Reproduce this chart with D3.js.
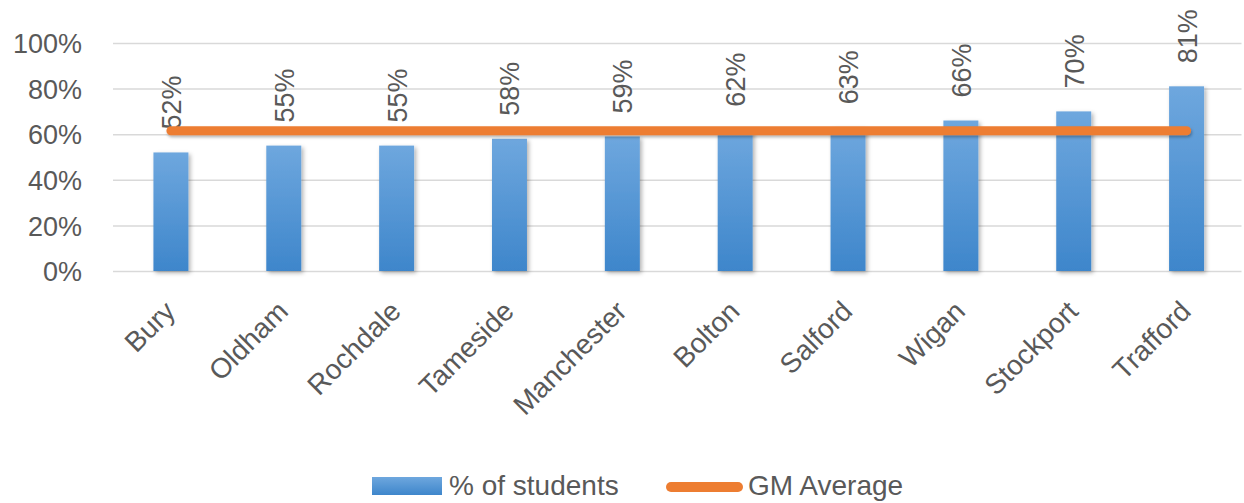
<!DOCTYPE html>
<html>
<head>
<meta charset="utf-8">
<script src="https://cdn.jsdelivr.net/npm/d3@7/dist/d3.min.js"></script>
<style>
  html, body { margin: 0; padding: 0; background: #fff; }
  svg { display: block; }
  text { font-family: "Liberation Sans", Arial, sans-serif; fill: #595959; }
</style>
</head>
<body>
<svg id="chart" width="1244" height="503"></svg>
<script>
// Share of students by Greater Manchester borough, with the GM average
const boroughs = ["Bury", "Oldham", "Rochdale", "Tameside", "Manchester",
                  "Bolton", "Salford", "Wigan", "Stockport", "Trafford"];
const studentShare = [0.52, 0.55, 0.55, 0.58, 0.59, 0.62, 0.63, 0.66, 0.70, 0.81];
const gmAverage = [0.615, 0.615, 0.615, 0.615, 0.615, 0.615, 0.615, 0.615, 0.615, 0.615];
const yTicks = [0, 0.2, 0.4, 0.6, 0.8, 1.0];
const seriesNames = ["% of students", "GM Average"];

const svg = d3.select("#chart");
const plot = { left: 114.5, right: 1243, top: 43, bottom: 271 };

const x = d3.scaleBand()
  .domain(boroughs)
  .range([plot.left, plot.right])
  .paddingInner(0.69)
  .paddingOuter(0.345);

const y = d3.scaleLinear().domain([0, 1]).range([plot.bottom, plot.top]);
const pct = d3.format(".0%");

const defs = svg.append("defs");
const grad = defs.append("linearGradient")
  .attr("id", "barFill").attr("x1", 0).attr("y1", 0).attr("x2", 0).attr("y2", 1);
grad.append("stop").attr("offset", "0%").attr("stop-color", "#6EA7DE");
grad.append("stop").attr("offset", "100%").attr("stop-color", "#3E86CB");

const shadow = defs.append("filter").attr("id", "shadow")
  .attr("x", "-30%").attr("y", "-30%").attr("width", "160%").attr("height", "160%");
shadow.append("feDropShadow")
  .attr("dx", 2).attr("dy", 2).attr("stdDeviation", 2)
  .attr("flood-color", "#000").attr("flood-opacity", 0.3);

// horizontal line has a zero-height bbox, so give its shadow an absolute region
const lineShadow = defs.append("filter").attr("id", "lineShadow")
  .attr("filterUnits", "userSpaceOnUse")
  .attr("x", 0).attr("y", 0).attr("width", 1244).attr("height", 503);
lineShadow.append("feDropShadow")
  .attr("dx", 1).attr("dy", 2).attr("stdDeviation", 1.5)
  .attr("flood-color", "#000").attr("flood-opacity", 0.3);

// horizontal gridlines and y tick labels
const yAxis = d3.axisLeft(y)
  .tickValues(yTicks)
  .tickFormat(pct)
  .tickSize(-(plot.right - plot.left))
  .tickPadding(31);

const gy = svg.append("g")
  .attr("transform", `translate(${plot.left - 1.5},0)`)
  .call(yAxis);
gy.select(".domain").remove();
gy.selectAll(".tick line").attr("stroke", "#D9D9D9").attr("stroke-width", 1.5);
gy.selectAll(".tick text")
  .attr("font-size", 27)
  .attr("fill", "#595959")
  .attr("dy", "0.36em");

// bars
svg.append("g").selectAll("rect")
  .data(studentShare)
  .join("rect")
  .attr("x", (d, i) => x(boroughs[i]))
  .attr("y", d => y(d))
  .attr("width", x.bandwidth())
  .attr("height", d => y(0) - y(d))
  .attr("fill", "url(#barFill)")
  .attr("filter", "url(#shadow)");

// value labels above bars, rotated
svg.append("g").selectAll("text")
  .data(studentShare)
  .join("text")
  .attr("transform", (d, i) => {
    const cx = x(boroughs[i]) + x.bandwidth() / 2;
    return `translate(${cx + 10},${y(d) - 23}) rotate(-90)`;
  })
  .attr("text-anchor", "start")
  .attr("font-size", 27)
  .text(d => pct(d));

// GM average line
const line = d3.line()
  .x((d, i) => x(boroughs[i]) + x.bandwidth() / 2)
  .y(d => y(d));

svg.append("path")
  .datum(gmAverage)
  .attr("d", line)
  .attr("fill", "none")
  .attr("stroke", "#ED7D31")
  .attr("stroke-width", 9)
  .attr("stroke-linecap", "round")
  .attr("filter", "url(#lineShadow)");

// category labels, rotated 45 degrees
svg.append("g").selectAll("text")
  .data(boroughs)
  .join("text")
  .attr("transform", d => {
    const cx = x(d) + x.bandwidth() / 2;
    return `translate(${cx + 6},${plot.bottom + 42}) rotate(-45)`;
  })
  .attr("text-anchor", "end")
  .attr("font-size", 28)
  .text(d => d);

// legend
const legend = svg.append("g");
legend.append("rect")
  .attr("x", 372).attr("y", 477).attr("width", 70).attr("height", 18)
  .attr("fill", "url(#barFill)");
legend.append("text")
  .attr("x", 449).attr("y", 495)
  .attr("font-size", 28)
  .text(seriesNames[0]);
legend.append("line")
  .attr("x1", 671).attr("x2", 738).attr("y1", 487).attr("y2", 487)
  .attr("stroke", "#ED7D31").attr("stroke-width", 10)
  .attr("stroke-linecap", "round");
legend.append("text")
  .attr("x", 748).attr("y", 495)
  .attr("font-size", 28)
  .text(seriesNames[1]);
</script>
</body>
</html>
